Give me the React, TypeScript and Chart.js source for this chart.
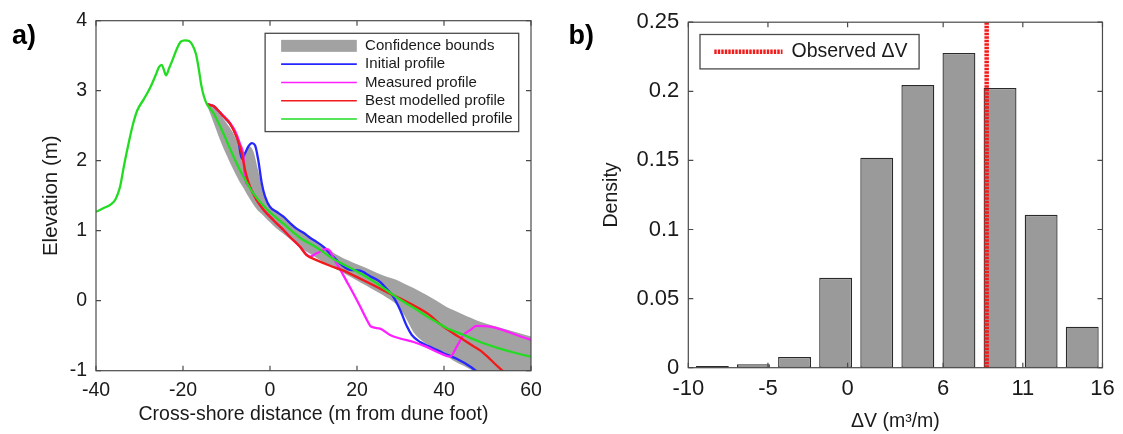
import { useEffect, useRef } from "react";
import { Chart, registerables } from "chart.js";

Chart.register(...registerables);

const FONT = "Arial, 'Liberation Sans', Helvetica, sans-serif";
const TEXT = "#1a1a1a";
const BOX = "#4a4a4a";

// ---------- Panel a: cross-shore profiles ----------
const xTicksA = [-40, -20, 0, 20, 40, 60];
const yTicksA = [-1, 0, 1, 2, 3, 4];

const meanX = [-40, -38, -36.5, -35.5, -34.5, -33.5, -32.5, -31.5, -30.5, -29, -27.5, -26.3, -25.5, -24.9, -24.4, -23.9, -23.2, -22.4, -21.4, -20.5, -19.5, -18.6, -17.8, -17.0, -16.4, -15.8, -15.2, -14.6, -13.0, -10.7, -8.4, -6.1, -3.8, -0.8, 3.1, 6.9, 10.7, 14.5, 19.9, 24.5, 29.1, 33, 36.8, 40.6, 44.5, 48.3, 52.1, 56, 60];
const meanY = [1.27, 1.33, 1.38, 1.45, 1.62, 1.95, 2.25, 2.52, 2.72, 2.88, 3.05, 3.22, 3.34, 3.37, 3.3, 3.22, 3.32, 3.44, 3.6, 3.7, 3.72, 3.71, 3.65, 3.52, 3.32, 3.08, 2.92, 2.82, 2.68, 2.39, 2.06, 1.77, 1.53, 1.31, 1.1, 0.9, 0.76, 0.6, 0.42, 0.25, 0.05, -0.1, -0.25, -0.39, -0.49, -0.59, -0.67, -0.74, -0.8];

const bestX = [-14.6, -13.0, -11.8, -10.7, -9.2, -7.7, -6.5, -5.75, -4.6, -3.1, -1.5, 0.8, 3.1, 4.6, 6.9, 8.4, 10.7, 13.8, 16.9, 19.9, 23.8, 27.6, 31, 34, 36.8, 39, 41.5, 44.5, 46.5, 48.3, 50, 51.5, 53.6, 55];
const bestY = [2.81, 2.78, 2.71, 2.63, 2.53, 2.34, 2.11, 1.87, 1.63, 1.44, 1.3, 1.15, 1.01, 0.91, 0.77, 0.65, 0.58, 0.5, 0.43, 0.34, 0.22, 0.1, 0.0, -0.1, -0.21, -0.33, -0.44, -0.56, -0.64, -0.71, -0.8, -0.89, -1.01, -1.1];

const initialX = [-14.6, -13, -11.8, -10.7, -9.2, -8, -7.2, -6.5, -5.8, -5, -4.2, -3.45, -2.7, -1.9, -1.15, 0, 1.5, 3.1, 4.6, 6.1, 7.7, 9.2, 10.7, 12.3, 13.8, 15, 16.1, 17.6, 18.4, 20.7, 22, 23, 25.3, 26.8, 28.4, 29.9, 31.5, 32.6, 34.5, 36.8, 39.9, 42.9, 46, 47.5, 49];
const initialY = [2.81, 2.78, 2.71, 2.63, 2.53, 2.4, 2.26, 2.03, 2.1, 2.2, 2.25, 2.22, 2.01, 1.68, 1.49, 1.34, 1.27, 1.2, 1.11, 1.03, 0.97, 0.9, 0.84, 0.77, 0.67, 0.6, 0.53, 0.46, 0.44, 0.43, 0.39, 0.35, 0.27, 0.17, 0.05, -0.13, -0.37, -0.49, -0.59, -0.66, -0.75, -0.83, -0.94, -1.01, -1.08];

const measuredX = [-14.6, -13, -11.8, -10.7, -9.2, -8, -6.9, -6.1, -5.75, -5.2, -4.6, -3.1, -1.5, 0.8, 3.1, 4.6, 6.9, 8.4, 9.2, 10.5, 11.5, 13.0, 13.8, 14.5, 16.1, 17.6, 19.1, 20.7, 22.5, 23.2, 25.3, 27.6, 29.9, 33.0, 36.0, 39.1, 41.4, 42.9, 44.5, 46.0, 47.5, 50.6, 53.6, 56.7, 60];
const measuredY = [2.81, 2.78, 2.71, 2.64, 2.54, 2.42, 2.24, 2.06, 1.76, 1.66, 1.62, 1.44, 1.3, 1.15, 1.01, 0.91, 0.77, 0.66, 0.63, 0.67, 0.7, 0.74, 0.71, 0.62, 0.45, 0.28, 0.11, -0.08, -0.3, -0.37, -0.4, -0.49, -0.54, -0.59, -0.66, -0.75, -0.8, -0.66, -0.49, -0.42, -0.36, -0.37, -0.42, -0.49, -0.56];

const boundsX = [-14.6, -13, -11.5, -10, -8.5, -7, -6, -5.3, -4.6, -3.8, -2.8, -1.9, -1, 0, 1.5, 3, 4.6, 6, 8.4, 9.2, 12.3, 14, 16.1, 20, 22, 24.5, 27, 29, 31, 33, 36, 38, 40.6, 42, 44.5, 46, 48.3, 52, 56, 60];
const boundsUpper = [2.81, 2.77, 2.66, 2.54, 2.4, 2.2, 2.06, 2.17, 2.2, 2.13, 1.88, 1.63, 1.47, 1.36, 1.28, 1.2, 1.12, 1.05, 0.94, 0.91, 0.78, 0.71, 0.63, 0.52, 0.47, 0.4, 0.34, 0.3, 0.24, 0.18, 0.08, 0.01, -0.09, -0.13, -0.2, -0.24, -0.3, -0.37, -0.44, -0.51];
const boundsLower = [2.81, 2.55, 2.3, 2.08, 1.88, 1.7, 1.6, 1.52, 1.45, 1.37, 1.29, 1.24, 1.18, 1.12, 1.03, 0.96, 0.88, 0.81, 0.7, 0.67, 0.55, 0.49, 0.42, 0.29, 0.22, 0.13, 0.04, -0.05, -0.22, -0.45, -0.62, -0.7, -0.79, -0.85, -0.93, -0.98, -1.05, -1.12, -1.2, -1.28];

// ---------- Panel b: histogram of ΔV ----------
const binCenters = [-8.49, -5.91, -3.33, -0.75, 1.83, 4.41, 6.99, 9.57, 12.15, 14.73];
const density = [0.0012, 0.0025, 0.0077, 0.065, 0.152, 0.2045, 0.2277, 0.2024, 0.1106, 0.0297];
const observedDV = 8.73;
const xTicksB = [-10, -5, 0, 6, 11, 16];
const yTicksB = [0, 0.05, 0.1, 0.15, 0.2, 0.25];

const BLUE = "#2626ff";
const MAGENTA = "#ff1fff";
const RED = "#f21a1a";
const GREEN = "#22dc22";
const BAND = "#a2a2a2";

const pts = (xs: number[], ys: number[]) => xs.map((x, i) => ({ x, y: ys[i] }));

const axesBox = {
  id: "axesBox",
  afterDatasetsDraw(chart: any, _a: any, opts: any) {
    const { ctx, chartArea, scales } = chart;
    const { left, right, top, bottom } = chartArea;
    ctx.save();
    ctx.strokeStyle = opts.color || BOX;
    ctx.lineWidth = opts.width || 1.2;
    ctx.setLineDash([]);
    ctx.strokeRect(left, top, right - left, bottom - top);
    const L = opts.tickLen || 5;
    ctx.beginPath();
    for (const t of scales.x.ticks) {
      const px = scales.x.getPixelForValue(t.value);
      ctx.moveTo(px, bottom);
      ctx.lineTo(px, bottom - L);
      ctx.moveTo(px, top);
      ctx.lineTo(px, top + L);
    }
    for (const t of scales.y.ticks) {
      const py = scales.y.getPixelForValue(t.value);
      ctx.moveTo(left, py);
      ctx.lineTo(left + L, py);
      ctx.moveTo(right, py);
      ctx.lineTo(right - L, py);
    }
    ctx.stroke();
    ctx.restore();
  },
};

const boxLegend = {
  id: "boxLegend",
  afterDraw(chart: any, _a: any, o: any) {
    if (!o || !o.items) return;
    const { ctx, chartArea } = chart;
    ctx.save();
    ctx.font = `${o.fontSize}px ${FONT}`;
    const textW = Math.max(...o.items.map((it: any) => ctx.measureText(it.label).width));
    const w = o.padLeft + o.sampleLen + o.gap + textW + o.padRight;
    const h = o.padTop * 2 + o.rowH * o.items.length;
    const x0 = o.align === "right" ? chartArea.right - o.insetX - w : chartArea.left + o.insetX;
    const y0 = chartArea.top + o.insetY;
    ctx.fillStyle = "#fff";
    ctx.fillRect(x0, y0, w, h);
    ctx.strokeStyle = BOX;
    ctx.lineWidth = 1.3;
    ctx.strokeRect(x0, y0, w, h);
    o.items.forEach((it: any, i: number) => {
      const cy = y0 + o.padTop + o.rowH * (i + 0.5);
      const sx = x0 + o.padLeft;
      if (it.patch) {
        ctx.fillStyle = it.color;
        ctx.fillRect(sx, cy - o.patchH / 2, o.sampleLen, o.patchH);
      } else {
        ctx.strokeStyle = it.color;
        ctx.lineWidth = it.width;
        ctx.setLineDash(it.dash || []);
        ctx.beginPath();
        ctx.moveTo(sx, cy);
        ctx.lineTo(sx + o.sampleLen, cy);
        ctx.stroke();
        ctx.setLineDash([]);
      }
      ctx.fillStyle = TEXT;
      ctx.textAlign = "left";
      ctx.textBaseline = "middle";
      ctx.fillText(it.label, sx + o.sampleLen + o.gap, cy);
    });
    ctx.restore();
  },
};

const panelLabel = {
  id: "panelLabel",
  afterDraw(chart: any, _a: any, o: any) {
    if (!o || !o.text) return;
    const { ctx } = chart;
    ctx.save();
    ctx.font = `bold ${o.size}px ${FONT}`;
    ctx.fillStyle = "#000";
    ctx.textAlign = "left";
    ctx.textBaseline = "alphabetic";
    ctx.fillText(o.text, o.x, o.y);
    ctx.restore();
  },
};

const lineDs = (label: string, xs: number[], ys: number[], color: string, order: number) => ({
  label,
  data: pts(xs, ys),
  borderColor: color,
  backgroundColor: color,
  borderWidth: 2.3,
  pointRadius: 0,
  fill: false,
  cubicInterpolationMode: "monotone",
  order,
});

const setTicks = (values: number[]) => (s: any) => {
  s.ticks = values.map((v) => ({ value: v }));
};

function configA(): any {
  return {
    type: "line",
    data: {
      datasets: [
        lineDs("Mean modelled profile", meanX, meanY, GREEN, 0),
        lineDs("Best modelled profile", bestX, bestY, RED, 1),
        lineDs("Measured profile", measuredX, measuredY, MAGENTA, 2),
        lineDs("Initial profile", initialX, initialY, BLUE, 3),
        {
          label: "Confidence bounds",
          data: pts(boundsX, boundsUpper),
          borderColor: "rgba(0,0,0,0)",
          borderWidth: 1,
          backgroundColor: BAND,
          pointRadius: 0,
          fill: "+1",
          cubicInterpolationMode: "monotone",
          order: 4,
        },
        {
          label: "lower bound",
          data: pts(boundsX, boundsLower),
          borderColor: "rgba(0,0,0,0)",
          borderWidth: 1,
          pointRadius: 0,
          fill: false,
          cubicInterpolationMode: "monotone",
          order: 5,
        },
      ],
    },
    options: {
      animation: false,
      responsive: false,
      maintainAspectRatio: false,
      devicePixelRatio: 1,
      layout: { padding: { left: 0, right: 29, top: 20.7, bottom: 0 } },
      plugins: {
        legend: { display: false },
        tooltip: { enabled: false },
        axesBox: { color: BOX, width: 1.2, tickLen: 5 },
        panelLabel: { text: "a)", x: 12, y: 43.5, size: 27 },
        boxLegend: {
          align: "right",
          insetX: 12.3,
          insetY: 12.6,
          padTop: 3.4,
          rowH: 18.3,
          padLeft: 16,
          sampleLen: 75.7,
          gap: 8.3,
          padRight: 6,
          fontSize: 15,
          patchH: 12,
          items: [
            { label: "Confidence bounds", patch: true, color: BAND },
            { label: "Initial profile", color: BLUE, width: 1.6 },
            { label: "Measured profile", color: MAGENTA, width: 1.6 },
            { label: "Best modelled profile", color: RED, width: 1.6 },
            { label: "Mean modelled profile", color: GREEN, width: 1.6 },
          ],
        },
      },
      scales: {
        x: {
          type: "linear",
          min: -40,
          max: 60,
          afterBuildTicks: setTicks(xTicksA),
          afterFit: (s: any) => {
            s.height = 434 - 370.7;
          },
          grid: { display: false, drawTicks: false },
          border: { display: false },
          ticks: { font: { family: FONT, size: 19.5 }, color: TEXT, padding: 8, maxRotation: 0, autoSkip: false },
          title: {
            display: true,
            text: "Cross-shore distance (m from dune foot)",
            font: { family: FONT, size: 19.5 },
            color: TEXT,
            padding: { top: 0, bottom: 8 },
          },
        },
        y: {
          type: "linear",
          min: -1,
          max: 4,
          afterBuildTicks: setTicks(yTicksA),
          afterFit: (s: any) => {
            s.width = 96;
          },
          grid: { display: false, drawTicks: false },
          border: { display: false },
          ticks: { font: { family: FONT, size: 19.5 }, color: TEXT, padding: 9 },
          title: {
            display: true,
            text: "Elevation (m)",
            font: { family: FONT, size: 20.5 },
            color: TEXT,
            padding: { top: 39, bottom: 0 },
          },
        },
      },
    },
    plugins: [axesBox, boxLegend, panelLabel],
  };
}

function configB(): any {
  const yTop = yTicksB[yTicksB.length - 1];
  return {
    type: "bar",
    data: {
      datasets: [
        {
          type: "line",
          label: "Observed ΔV",
          data: [
            { x: observedDV, y: 0 },
            { x: observedDV, y: yTop },
          ],
          borderColor: RED,
          borderWidth: 4.5,
          borderDash: [2.4, 1.1],
          pointRadius: 0,
          fill: false,
          order: 0,
        },
        {
          type: "bar",
          label: "Density",
          data: pts(binCenters, density),
          backgroundColor: "#9a9a9a",
          borderColor: "#2a2a2a",
          borderWidth: 1.3,
          borderSkipped: false,
          barPercentage: 0.8,
          categoryPercentage: 1,
          order: 1,
        },
      ],
    },
    options: {
      animation: false,
      responsive: false,
      maintainAspectRatio: false,
      devicePixelRatio: 1,
      layout: { padding: { left: 0, right: 563 - 545.7, top: 20, bottom: 0 } },
      plugins: {
        legend: { display: false },
        tooltip: { enabled: false },
        axesBox: { color: BOX, width: 1.2, tickLen: 5 },
        panelLabel: { text: "b)", x: 8.5, y: 43.5, size: 27 },
        boxLegend: {
          align: "left",
          insetX: 11.7,
          insetY: 12.3,
          padTop: 0,
          rowH: 34.4,
          padLeft: 14.3,
          sampleLen: 68.2,
          gap: 9,
          padRight: 11.6,
          fontSize: 19.5,
          patchH: 10,
          items: [{ label: "Observed ΔV", color: RED, width: 4.5, dash: [2.4, 1.1] }],
        },
      },
      scales: {
        x: {
          type: "linear",
          min: xTicksB[0],
          max: xTicksB[xTicksB.length - 1],
          offset: false,
          afterBuildTicks: setTicks(xTicksB),
          afterFit: (s: any) => {
            s.height = 434 - 367.7;
          },
          grid: { display: false, drawTicks: false },
          border: { display: false },
          ticks: { font: { family: FONT, size: 22 }, color: TEXT, padding: 8.3, maxRotation: 0, autoSkip: false },
          title: {
            display: true,
            text: "ΔV (m³/m)",
            font: { family: FONT, size: 19.5 },
            color: TEXT,
            padding: { top: 0, bottom: 1 },
          },
        },
        y: {
          type: "linear",
          min: 0,
          max: yTop,
          afterBuildTicks: setTicks(yTicksB),
          afterFit: (s: any) => {
            s.width = 128.3;
          },
          grid: { display: false, drawTicks: false },
          border: { display: false },
          ticks: {
            font: { family: FONT, size: 22 },
            color: TEXT,
            padding: 9,
            callback: (v: number) => String(Number(Number(v).toFixed(2))),
          },
          title: {
            display: true,
            text: "Density",
            font: { family: FONT, size: 19.5 },
            color: TEXT,
            padding: { top: 40.4, bottom: 0 },
          },
        },
      },
    },
    plugins: [axesBox, boxLegend, panelLabel],
  };
}

function ChartCanvas({ make, left, width }: { make: () => any; left: number; width: number }) {
  const ref = useRef<HTMLCanvasElement | null>(null);
  useEffect(() => {
    if (!ref.current) return;
    const chart = new Chart(ref.current, make());
    return () => chart.destroy();
  }, [make]);
  return (
    <canvas
      ref={ref}
      width={width}
      height={434}
      style={{ position: "absolute", left, top: 0, width, height: 434 }}
    />
  );
}

export default function App() {
  return (
    <div style={{ position: "absolute", left: 0, top: 0, width: 1123, height: 434, background: "#fff", overflow: "hidden" }}>
      <ChartCanvas make={configA} left={0} width={560} />
      <ChartCanvas make={configB} left={560} width={563} />
    </div>
  );
}
